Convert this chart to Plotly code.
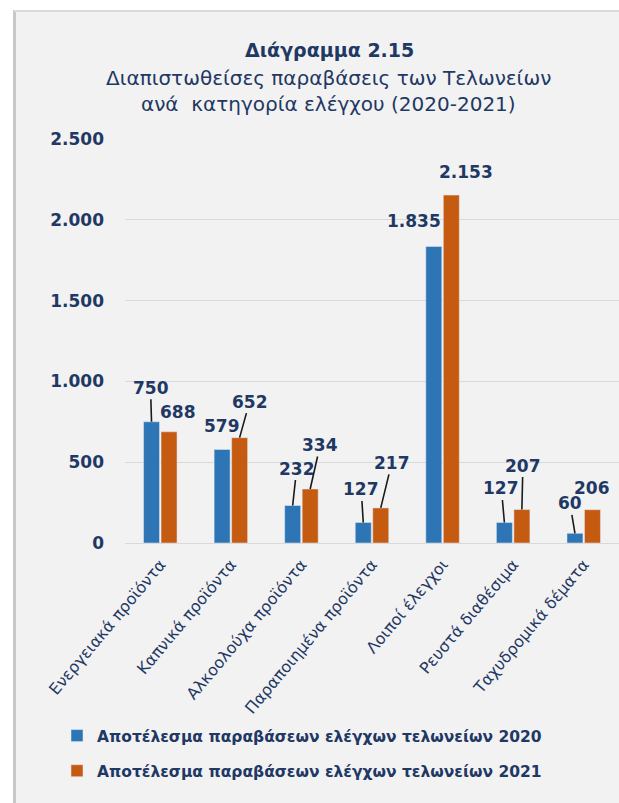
import plotly.graph_objects as go

categories = ["Ενεργειακά προϊόντα", "Καπνικά προϊόντα", "Αλκοολούχα προϊόντα",
              "Παραποιημένα προϊόντα", "Λοιποί έλεγχοι", "Ρευστά διαθέσιμα", "Ταχυδρομικά δέματα"]
values_2020 = [750, 579, 232, 127, 1835, 127, 60]
values_2021 = [688, 652, 334, 217, 2153, 207, 206]
series_names = ["Αποτέλεσμα παραβάσεων ελέγχων τελωνείων 2020",
                "Αποτέλεσμα παραβάσεων ελέγχων τελωνείων 2021"]
title_lines = ["Διάγραμμα 2.15", "Διαπιστωθείσες παραβάσεις των Τελωνείων",
               "ανά  κατηγορία ελέγχου (2020-2021)"]

# label placement styling (pixel offsets, leader line flag)
label_style_2020 = [(-1, -34, True), (0, -23, False), (4, -37, True), (-2, -33, True),
                    (-20, -25, False), (-3, -34, True), (-5, -30, True)]
label_style_2021 = [(9, -20, False), (10, -36, True), (10, -44, True), (11, -45, True),
                    (15, -23, False), (1, -44, True), (0, -22, False)]

NAVY = "#1f3864"
BLUE = "#2e75b6"
ORANGE = "#c55a11"
FONT = "DejaVu Sans"

W_FIG, H_FIG = 619, 803
L, R, T, B = 125, 0, 139, 260
PW = W_FIG - L - R
PH = H_FIG - T - B


def px_x(px):
    return (px - L) / PW


def px_y(py):
    return (H_FIG - B - py) / PH


fig = go.Figure()
fig.add_trace(go.Bar(x=categories, y=values_2020, name=series_names[0], marker_color=BLUE,
                     legendgroup="a"))
fig.add_trace(go.Bar(x=categories, y=values_2021, name=series_names[1], marker_color=ORANGE,
                     legendgroup="b"))


def fmt(v):
    return f"{v:,}".replace(",", ".")


annotations = []
for vals, styles, off in ((values_2020, label_style_2020, -0.124), (values_2021, label_style_2021, 0.124)):
    for i, (v, (dx, dy, leader)) in enumerate(zip(vals, styles)):
        base = dict(x=i + off, y=v, xref="x", yref="y", text=f"<b>{fmt(v)}</b>",
                    font=dict(family=FONT, size=17, color=NAVY))
        if leader:
            base.update(showarrow=True, ax=dx, ay=dy, arrowhead=0, arrowwidth=1.6,
                        arrowcolor="#1a1a1a", standoff=0)
        else:
            base.update(showarrow=False, xshift=dx, yshift=-dy, xanchor="center", yanchor="middle")
        annotations.append(base)

# title lines
annotations.append(dict(x=px_x(329), y=px_y(50), xref="paper", yref="paper", showarrow=False,
                        text=f"<b>{title_lines[0]}</b>", font=dict(family=FONT, size=19, color=NAVY),
                        xanchor="center", yanchor="middle"))
annotations.append(dict(x=px_x(328), y=px_y(78), xref="paper", yref="paper", showarrow=False,
                        text=title_lines[1], font=dict(family=FONT, size=20, color=NAVY),
                        xanchor="center", yanchor="middle"))
annotations.append(dict(x=px_x(328), y=px_y(104), xref="paper", yref="paper", showarrow=False,
                        text=title_lines[2], font=dict(family=FONT, size=20, color=NAVY),
                        xanchor="center", yanchor="middle"))

shapes = [
    dict(type="rect", xref="paper", yref="paper", x0=px_x(14), x1=px_x(619), y0=px_y(803), y1=px_y(10),
         fillcolor="#f2f2f2", line=dict(width=0), layer="below"),
    dict(type="line", xref="paper", yref="paper", x0=px_x(14.5), x1=px_x(14.5), y0=px_y(803), y1=px_y(10),
         line=dict(color="#c8c8c8", width=3), layer="below"),
    dict(type="line", xref="paper", yref="paper", x0=px_x(14), x1=px_x(619), y0=px_y(11), y1=px_y(11),
         line=dict(color="#dadada", width=2), layer="below"),
]

fig.update_layout(
    width=W_FIG, height=H_FIG,
    margin=dict(l=L, r=R, t=T, b=B, autoexpand=False),
    paper_bgcolor="white", plot_bgcolor="rgba(0,0,0,0)",
    separators=",.",
    barmode="group", bargap=0.504, bargroupgap=0.086,
    showlegend=True,
    legend=dict(x=px_x(57), y=px_y(719), xanchor="left", yanchor="top", orientation="v",
                font=dict(family=FONT, size=15.5, color=NAVY, weight="bold"),
                tracegroupgap=12, bgcolor="rgba(0,0,0,0)", itemclick=False),
    annotations=annotations,
    shapes=shapes,
    font=dict(family=FONT, color=NAVY),
)
fig.update_yaxes(range=[0, 2500], dtick=500, tickformat=",", showgrid=True, gridcolor="#d9d9d9",
                 gridwidth=1, zeroline=True, zerolinecolor="#d9d9d9", zerolinewidth=1,
                 tickfont=dict(family=FONT, size=17, color=NAVY, weight="bold"),
                 ticks="", ticklabelstandoff=20, fixedrange=True)
fig.update_xaxes(tickangle=-50, tickfont=dict(family=FONT, size=16, color=NAVY),
                 ticklabelstandoff=8,
                 showgrid=False, ticks="", showline=False, fixedrange=True)

fig.write_html("out.html", config={"displayModeBar": False},
               post_script="document.body.style.margin='0';document.body.style.overflow='hidden';")
